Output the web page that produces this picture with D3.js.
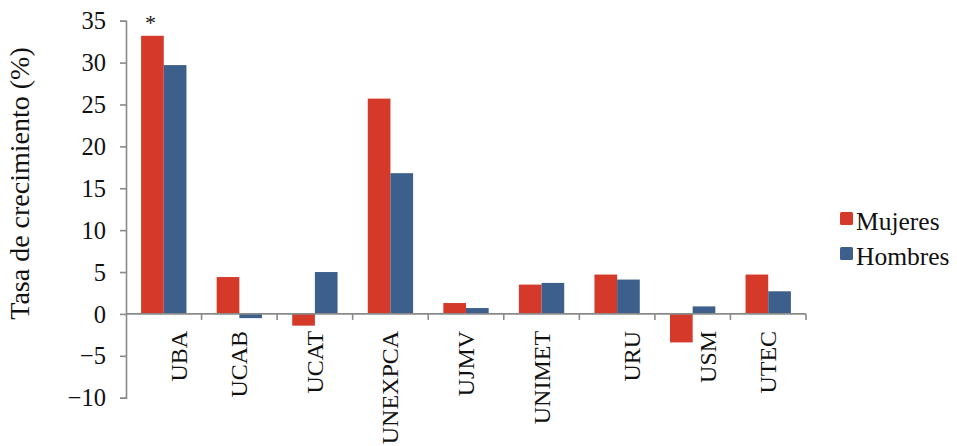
<!DOCTYPE html>
<html>
<head>
<meta charset="utf-8">
<script src="https://cdn.jsdelivr.net/npm/d3@7"></script>
<style>
  html, body { margin: 0; padding: 0; background: #ffffff; }
  svg text { font-family: "Liberation Serif", "Times New Roman", "DejaVu Serif", serif !important; }
</style>
</head>
<body>
<svg id="chart" width="957" height="446"></svg>
<script>
const categories = ["UBA", "UCAB", "UCAT", "UNEXPCA", "UJMV", "UNIMET", "URU", "USM", "UTEC"];
const mujeres = [33.2, 4.4, -1.4, 25.7, 1.3, 3.5, 4.7, -3.4, 4.7];
const hombres = [29.7, -0.5, 5.0, 16.8, 0.7, 3.7, 4.1, 0.9, 2.7];
const seriesNames = ["Mujeres", "Hombres"];
const seriesColors = ["#d5392a", "#3c5f8b"];
const yTicks = [-10, -5, 0, 5, 10, 15, 20, 25, 30, 35];
const yTitle = "Tasa de crecimiento (%)";
const markedCategory = "UBA";        // category with the asterisk
const twoLineLabels = ["UBA", "URU", "USM"]; // labels drawn as second line of a two-line label

const svg = d3.select("#chart");
const axisColor = "#8a8a8a";

const x = d3.scaleBand().domain(categories).range([126, 806]).paddingInner(0.4).paddingOuter(0.2);
const xs = d3.scaleBand().domain(seriesNames).range([0, x.bandwidth()]).padding(0);
const y = d3.scaleLinear().domain([-10, 35]).range([397.7, 20.7]);

const data = categories.map((c, i) => ({ cat: c, vals: [mujeres[i], hombres[i]] }));

// bars
const groups = svg.append("g").selectAll("g").data(data).join("g")
  .attr("transform", d => `translate(${x(d.cat)},0)`);
groups.selectAll("rect").data(d => d.vals.map((v, j) => ({ v, s: seriesNames[j], j })))
  .join("rect")
  .attr("x", d => xs(d.s))
  .attr("width", xs.bandwidth())
  .attr("y", d => y(Math.max(0, d.v)))
  .attr("height", d => Math.abs(y(d.v) - y(0)))
  .attr("fill", d => seriesColors[d.j]);

// y axis
const yAxis = svg.append("g").attr("transform", "translate(126,0)")
  .call(d3.axisLeft(y).tickValues(yTicks).tickSize(6).tickPadding(14).tickFormat(d3.format("d")));
yAxis.attr("font-family", null);
yAxis.select(".domain").attr("stroke", axisColor).attr("stroke-width", 1.6);
yAxis.selectAll(".tick line").attr("stroke", axisColor).attr("stroke-width", 1.6);
yAxis.selectAll(".tick text").attr("font-size", 24.5).attr("fill", "#111").attr("dy", "0.33em");

// x axis at zero
const x0 = y(0);
const boundaries = d3.range(1, categories.length + 1).map(i => x.range()[0] + i * x.step());
svg.append("line").attr("x1", 126).attr("x2", x.range()[1]).attr("y1", x0).attr("y2", x0)
  .attr("stroke", axisColor).attr("stroke-width", 1.6);
svg.append("g").selectAll("line").data(boundaries).join("line")
  .attr("x1", d => d).attr("x2", d => d).attr("y1", x0).attr("y2", x0 + 6)
  .attr("stroke", axisColor).attr("stroke-width", 1.6);

// category labels (rotated)
svg.append("g").selectAll("text").data(categories).join("text")
  .attr("transform", d => {
    const cx = x(d) + x.bandwidth() / 2 + (twoLineLabels.includes(d) ? 15 : 0) + 8;
    return `translate(${cx},${x0 + 17}) rotate(-90)`;
  })
  .attr("text-anchor", "end")
  .attr("font-size", 24)
  .attr("fill", "#111")
  .text(d => d);

// y title
svg.append("text")
  .attr("transform", `translate(29,${(45 + 322) / 2}) rotate(-90)`)
  .attr("text-anchor", "middle")
  .attr("font-size", 28)
  .attr("fill", "#111")
  .text(yTitle);

// asterisk
const mi = categories.indexOf(markedCategory);
svg.append("text")
  .attr("x", x(markedCategory) + xs("Mujeres") + xs.bandwidth() / 2 - 2)
  .attr("y", y(mujeres[mi]) - 6)
  .attr("text-anchor", "middle")
  .attr("font-size", 22)
  .attr("fill", "#111")
  .text("*");

// legend
const legend = svg.append("g").attr("transform", "translate(840,212)");
seriesNames.forEach((s, i) => {
  const g = legend.append("g").attr("transform", `translate(0,${i * 35})`);
  g.append("rect").attr("width", 13).attr("height", 13).attr("rx", 1.5).attr("fill", seriesColors[i]);
  g.append("text").attr("x", 16).attr("y", 18).attr("font-size", 25.5).attr("fill", "#111").text(s);
});
</script>
</body>
</html>
